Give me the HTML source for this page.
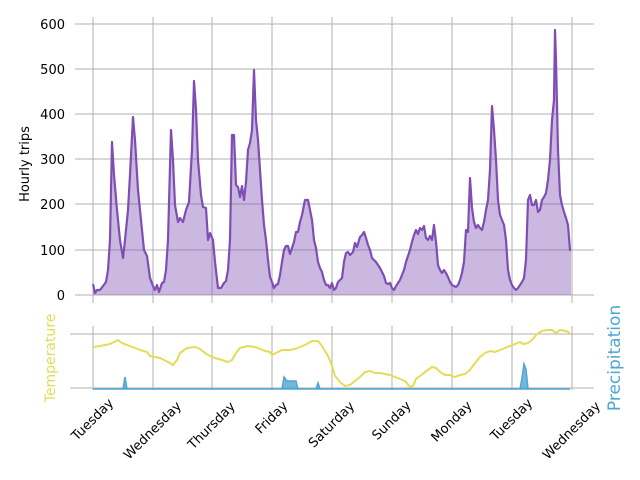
<!DOCTYPE html>
<html><head><meta charset="utf-8"><style>html,body{margin:0;padding:0;background:#fff}svg{display:block}</style></head>
<body>
<svg width="640" height="480" viewBox="0 0 640 480" xmlns="http://www.w3.org/2000/svg" font-family="'DejaVu Sans', 'Liberation Sans', sans-serif">
<g stroke="#b0b0b0" stroke-width="1">
<line x1="75" y1="24" x2="594" y2="24"/><line x1="75" y1="69" x2="594" y2="69"/><line x1="75" y1="114" x2="594" y2="114"/><line x1="75" y1="159" x2="594" y2="159"/><line x1="75" y1="204" x2="594" y2="204"/><line x1="75" y1="250" x2="594" y2="250"/><line x1="75" y1="295" x2="594" y2="295"/>
<line x1="93" y1="17" x2="93" y2="303"/><line x1="153" y1="17" x2="153" y2="303"/><line x1="212" y1="17" x2="212" y2="303"/><line x1="272" y1="17" x2="272" y2="303"/><line x1="332" y1="17" x2="332" y2="303"/><line x1="392" y1="17" x2="392" y2="303"/><line x1="452" y1="17" x2="452" y2="303"/><line x1="512" y1="17" x2="512" y2="303"/><line x1="572" y1="17" x2="572" y2="303"/>
<line x1="70" y1="334" x2="594" y2="334"/><line x1="70" y1="388" x2="594" y2="388"/>
<line x1="93" y1="326" x2="93" y2="390"/><line x1="153" y1="326" x2="153" y2="390"/><line x1="212" y1="326" x2="212" y2="390"/><line x1="272" y1="326" x2="272" y2="390"/><line x1="332" y1="326" x2="332" y2="390"/><line x1="392" y1="326" x2="392" y2="390"/><line x1="452" y1="326" x2="452" y2="390"/><line x1="512" y1="326" x2="512" y2="390"/><line x1="572" y1="326" x2="572" y2="390"/>
</g>
<g font-size="13" fill="#000" text-anchor="end">
<text x="65" y="29">600</text><text x="65" y="74">500</text><text x="65" y="119">400</text><text x="65" y="164">300</text><text x="65" y="209">200</text><text x="65" y="255">100</text><text x="65" y="300">0</text>
</g>
<text transform="translate(29,164) rotate(-90)" font-size="13" text-anchor="middle">Hourly trips</text>
<text transform="translate(55,358) rotate(-90)" font-size="14" text-anchor="middle" fill="#e5dc55">Temperature</text>
<text transform="translate(620,358) rotate(-90)" font-size="17" text-anchor="middle" fill="#4da6d3">Precipitation</text>
<polygon fill="#7e4eb4" fill-opacity="0.4" points="93,295 93,284 95,293 97,290 100,290 103,286 106,282 108,270 110,240 112,142 114,175 117,210 120,240 123,258 125,240 128,210 130,175 133,117 135,140 138,190 141,220 144,250 147,256 150,278 153,286 155,290 157,285 159,292 162,283 164,282 166,270 168,240 171,130 173,160 175,205 178,222 180,218 183,222 186,210 189,202 192,150 194,81 196,110 198,160 201,195 203,207 206,208 208,240 210,233 213,240 215,262 218,288 221,288 224,283 226,281 228,270 230,240 232,135 234,135 236,185 238,187 240,197 242,186 244,200 246,182 248,150 250,143 252,130 254,70 256,120 258,140 260,170 262,200 264,225 266,240 268,260 270,277 272,282 274,288 276,285 278,284 280,275 282,262 284,250 286,246 288,246 290,254 292,248 294,242 296,232 298,232 300,222 302,215 305,200 308,200 310,210 312,220 314,240 316,248 318,262 320,268 322,272 324,280 326,285 328,285 330,288 332,283 334,290 336,288 338,282 340,280 342,278 344,262 346,253 348,252 350,255 353,252 355,243 357,247 360,237 362,235 364,232 366,238 368,245 370,250 372,258 374,260 376,262 378,265 380,268 382,272 384,276 386,283 388,284 390,283 392,288 394,290 396,286 398,283 400,280 402,275 404,270 406,262 408,256 410,250 412,242 414,235 416,230 418,234 420,228 422,230 424,226 426,238 428,240 430,236 432,240 434,225 436,242 438,265 440,270 442,273 444,270 446,273 448,277 450,282 452,285 454,286 456,287 458,285 460,280 462,273 464,262 466,230 468,232 470,178 472,208 474,222 476,228 478,225 480,228 482,230 484,222 486,210 488,200 490,170 492,106 494,130 496,160 498,200 500,215 502,220 504,225 506,240 508,270 510,280 512,285 514,288 516,290 518,288 520,285 522,282 524,278 526,260 528,200 530,195 532,205 534,205 536,200 538,212 540,210 542,200 544,197 546,193 548,180 550,160 552,120 554,100 555,30 556,60 558,150 560,195 562,205 564,212 566,218 568,225 570,250 571,250 571,295"/>
<polyline fill="none" stroke="#7e4eb4" stroke-width="2.2" stroke-linejoin="round" points="93,284 95,293 97,290 100,290 103,286 106,282 108,270 110,240 112,142 114,175 117,210 120,240 123,258 125,240 128,210 130,175 133,117 135,140 138,190 141,220 144,250 147,256 150,278 153,286 155,290 157,285 159,292 162,283 164,282 166,270 168,240 171,130 173,160 175,205 178,222 180,218 183,222 186,210 189,202 192,150 194,81 196,110 198,160 201,195 203,207 206,208 208,240 210,233 213,240 215,262 218,288 221,288 224,283 226,281 228,270 230,240 232,135 234,135 236,185 238,187 240,197 242,186 244,200 246,182 248,150 250,143 252,130 254,70 256,120 258,140 260,170 262,200 264,225 266,240 268,260 270,277 272,282 274,288 276,285 278,284 280,275 282,262 284,250 286,246 288,246 290,254 292,248 294,242 296,232 298,232 300,222 302,215 305,200 308,200 310,210 312,220 314,240 316,248 318,262 320,268 322,272 324,280 326,285 328,285 330,288 332,283 334,290 336,288 338,282 340,280 342,278 344,262 346,253 348,252 350,255 353,252 355,243 357,247 360,237 362,235 364,232 366,238 368,245 370,250 372,258 374,260 376,262 378,265 380,268 382,272 384,276 386,283 388,284 390,283 392,288 394,290 396,286 398,283 400,280 402,275 404,270 406,262 408,256 410,250 412,242 414,235 416,230 418,234 420,228 422,230 424,226 426,238 428,240 430,236 432,240 434,225 436,242 438,265 440,270 442,273 444,270 446,273 448,277 450,282 452,285 454,286 456,287 458,285 460,280 462,273 464,262 466,230 468,232 470,178 472,208 474,222 476,228 478,225 480,228 482,230 484,222 486,210 488,200 490,170 492,106 494,130 496,160 498,200 500,215 502,220 504,225 506,240 508,270 510,280 512,285 514,288 516,290 518,288 520,285 522,282 524,278 526,260 528,200 530,195 532,205 534,205 536,200 538,212 540,210 542,200 544,197 546,193 548,180 550,160 552,120 554,100 555,30 556,60 558,150 560,195 562,205 564,212 566,218 568,225 570,250 571,250"/>
<polyline fill="none" stroke="#e5dc55" stroke-width="2" stroke-linejoin="round" points="93,347 100,346 110,344 118,340 122,343 130,346 140,350 147,352 150,356 160,358 170,363 173,365 177,360 180,353 187,348 195,347 200,349 205,353 210,356 215,358 222,360 228,362 232,360 236,353 240,348 248,346 255,347 260,349 265,351 270,352 272,355 278,352 282,350 290,350 295,349 300,347 307,344 312,341 318,341 322,346 328,356 332,366 335,376 340,382 345,386 350,385 355,381 360,377 365,372 370,371 375,373 380,373 385,374 390,375 395,377 400,379 405,381 410,387 413,386 416,379 420,376 425,372 432,367 436,368 440,372 445,375 450,375 455,377 460,375 465,374 470,370 475,363 480,357 485,353 490,351 495,352 500,350 505,348 510,346 515,344 520,342 523,344 528,343 532,340 537,334 542,331 547,330 552,330 556,333 560,330 566,331 570,333"/>
<path fill="#4da6d3" fill-opacity="0.8" stroke="#4da6d3" stroke-width="1.5" d="M93,389 L123,389 L125,377 L127,389 L282,389 L284,377 L287,381 L296,381 L298,389 L316,389 L318,383 L320,389 L520,389 L522,378 L524,364 L526,369 L528,389 L570,389 Z"/>
<g font-size="13" text-anchor="middle" dominant-baseline="central">
<text transform="translate(93,420) rotate(-45)">Tuesday</text>
<text transform="translate(153,431) rotate(-45)">Wednesday</text>
<text transform="translate(212,426) rotate(-45)">Thursday</text>
<text transform="translate(272,418) rotate(-45)">Friday</text>
<text transform="translate(332,425) rotate(-45)">Saturday</text>
<text transform="translate(392,421) rotate(-45)">Sunday</text>
<text transform="translate(452,422) rotate(-45)">Monday</text>
<text transform="translate(512,420) rotate(-45)">Tuesday</text>
<text transform="translate(572,431) rotate(-45)">Wednesday</text>
</g>
</svg>
</body></html>
